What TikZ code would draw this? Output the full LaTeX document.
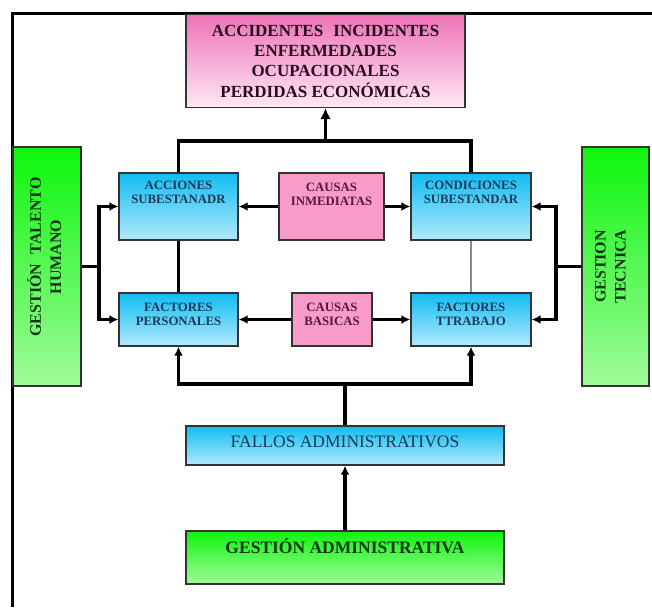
\documentclass[tikz,border=0pt]{standalone}
\usepackage{fontspec}
\setmainfont{Liberation Serif}
\usepackage{graphicx}
\usetikzlibrary{arrows.meta}
\definecolor{bordercol}{HTML}{333333}
\definecolor{blueTop}{HTML}{10BDF2}
\definecolor{blueBot}{HTML}{B2E9FB}
\definecolor{blueText}{HTML}{1C3A58}
\definecolor{pinkFill}{HTML}{F89BCB}
\definecolor{pinkText}{HTML}{5A1838}
\definecolor{pinkTop}{HTML}{EE72B8}
\definecolor{pinkBot}{HTML}{FDE8F3}
\definecolor{topText}{HTML}{2A0E1E}
\definecolor{greenTop}{HTML}{0EF50E}
\definecolor{greenBot}{HTML}{A0FA9A}
\definecolor{greenText}{HTML}{0E360E}
\definecolor{thinGray}{HTML}{8A8A8A}
\newcommand\lifted[2]{\raisebox{0pt}[\height][\dimexpr\depth+#1\relax]{\begin{tabular}{@{}c@{}}#2\end{tabular}}}
\begin{document}
\begin{tikzpicture}[x=1pt,y=-1pt,
  box/.style={draw=bordercol, line width=1.4pt, inner sep=0pt},
  bluebox/.style={box, top color=blueTop, bottom color=blueBot, text=blueText,
    font=\bfseries\fontsize{12.8}{14}\selectfont},
  pinkbox/.style={box, fill=pinkFill, text=pinkText,
    font=\bfseries\fontsize{12.8}{14}\selectfont},
  greenbox/.style={box, top color=greenTop, bottom color=greenBot, text=greenText},
  conn/.style={line width=3.2pt},
  arr/.style={conn, -{Latex[length=9pt,width=9pt]}},
  frameline/.style={line width=3pt}
]
\useasboundingbox (0,0) rectangle (652,607);
\fill[white] (0,0) rectangle (652,607);

% frame
\coordinate (fTL) at (12,14);
\coordinate (fTR) at (652,14);
\coordinate (fBL) at (12,607);
\draw[frameline] (fTR) -- (fTL) -- (fBL);

% nodes
\node[box, top color=pinkTop, bottom color=pinkBot, text=topText,
  minimum width=279, minimum height=93,
  font=\bfseries\fontsize{17}{20}\selectfont] (top) at (325.5,61)
  {\lifted{-4pt}{ACCIDENTES\hspace{0.6em}INCIDENTES\\ENFERMEDADES\\OCUPACIONALES\\PERDIDAS ECONÓMICAS}};

\node[bluebox, minimum width=119, minimum height=67] (acc) at (178.5,206.5)
  {\lifted{25pt}{ACCIONES\\SUBESTANADR}};
\node[pinkbox, minimum width=105, minimum height=67] (ci) at (331.5,206.5)
  {\lifted{21pt}{CAUSAS\\INMEDIATAS}};
\node[bluebox, minimum width=120, minimum height=67] (cond) at (471,206.5)
  {\lifted{25pt}{CONDICIONES\\SUBESTANDAR}};

\node[bluebox, minimum width=119, minimum height=53] (fp) at (178.5,319.5)
  {\lifted{8pt}{FACTORES\\PERSONALES}};
\node[pinkbox, minimum width=80, minimum height=53] (cb) at (332,319.5)
  {\lifted{8pt}{CAUSAS\\BASICAS}};
\node[bluebox, minimum width=120, minimum height=53] (ft) at (471,319.5)
  {\lifted{8pt}{FACTORES\\TTRABAJO}};

\node[box, top color=blueTop, bottom color=blueBot, text=blueText,
  minimum width=318, minimum height=39,
  font=\fontsize{17.5}{20}\selectfont] (fa) at (345,445.5)
  {\lifted{5pt}{FALLOS ADMINISTRATIVOS}};
\node[greenbox, minimum width=318, minimum height=53,
  font=\bfseries\fontsize{17.5}{20}\selectfont] (ga) at (345,557.5)
  {\lifted{17pt}{GESTIÓN ADMINISTRATIVA}};

\node[greenbox, minimum width=68, minimum height=239,
  font=\bfseries\fontsize{16}{20}\selectfont] (gth) at (47,266.5)
  {\rotatebox{90}{\hspace*{19pt}\begin{tabular}{@{}c@{}}GESTIÓN\hspace{0.6em}TALENTO\\HUMANO\end{tabular}}};
\node[greenbox, minimum width=67, minimum height=239,
  font=\bfseries\fontsize{16}{20}\selectfont] (gt) at (615.5,266.5)
  {\rotatebox{90}{\raisebox{0pt}[\height][\dimexpr\depth+8pt\relax]{\begin{tabular}{@{}c@{}}GESTION\\TECNICA\end{tabular}}}};

% bus coordinates
\coordinate (tbus) at (0,141);
\coordinate (bbus) at (0,384);
\coordinate (lbus) at (99,266.5);
\coordinate (rbus) at (556,266.5);

% top connections
\draw[conn] (acc.north) -- (acc.north |- tbus) -- (cond.north |- tbus) -- (cond.north);
\draw[arr, -{Latex[length=11pt,width=11pt]}] (top.south |- tbus) -- (top.south);

% vertical links between rows
\draw[conn] (acc.south) -- (fp.north);
\draw[line width=1.5pt, thinGray] (cond.south) -- (ft.north);

% causes to boxes
\draw[arr] (ci.west) -- (acc.east);
\draw[arr] (ci.east) -- (cond.west);
\draw[arr] (cb.west) -- (fp.east);
\draw[arr] (cb.east) -- (ft.west);

% left bus
\draw[conn] (gth.east |- lbus) -- (lbus);
\draw[arr] (lbus) |- (acc.west);
\draw[arr] (lbus) |- (fp.west);

% right bus
\draw[conn] (gt.west |- rbus) -- (rbus);
\draw[arr] (rbus) |- (cond.east);
\draw[arr] (rbus) |- (ft.east);

% bottom bus
\draw[arr] (fa.north) -- (fa.north |- bbus) -| (fp.south);
\draw[arr] (fa.north |- bbus) -| (ft.south);

% gestion administrativa to fallos
\draw[arr] (ga.north) -- (fa.south);
\end{tikzpicture}
\end{document}
